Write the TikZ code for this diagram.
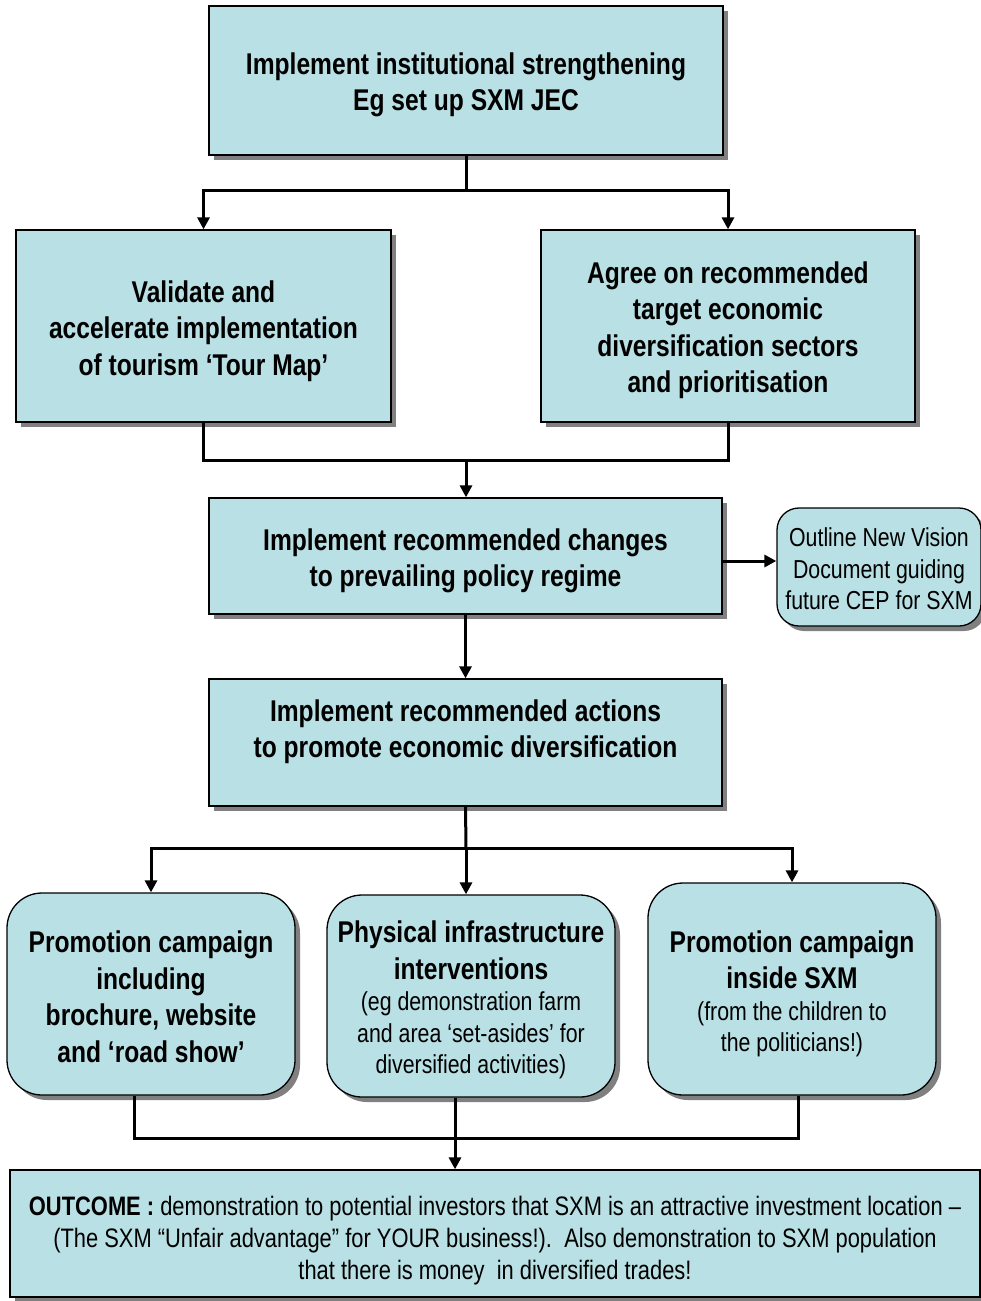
\documentclass[tikz,border=0pt]{standalone}
\usepackage{fontspec}
\usepackage{graphicx}
\setmainfont{Liberation Sans}
\usetikzlibrary{arrows.meta,shadows}
\definecolor{boxfill}{RGB}{185,224,228}
\definecolor{shadowgray}{RGB}{128,128,128}
\newcommand\bfnt{\fontsize{30}{36.5}\selectfont\bfseries}
\newcommand\nfnt{\fontsize{26}{31.5}\selectfont\mdseries}
\newcommand\ofnt{\fontsize{26.7}{32}\selectfont\mdseries}
\newcommand\boxtext[3]{\scalebox{0.82}[1]{\parbox{#1}{\vspace*{#2}\centering #3\par}}}
\begin{document}
\begin{tikzpicture}[x=1pt,y=-1pt,
  box/.style={draw=black, line width=1.3pt, fill=boxfill, inner sep=0pt,
    drop shadow={shadow xshift=5pt, shadow yshift=-5pt, fill=shadowgray, opacity=1}},
  rbox/.style={box, rounded corners=35pt},
  conn/.style={line width=3pt},
  arr/.style={conn, -{Triangle[width=12pt,length=12pt]}}]
\useasboundingbox (0,0) rectangle (981,1301);

\node[box, minimum width=514pt, minimum height=149pt] (top) at (466,80.5)
  {\boxtext{600pt}{9pt}{\bfnt Implement institutional strengthening\\Eg set up SXM JEC}};
\node[box, minimum width=375pt, minimum height=192pt] (left) at (203.5,326)
  {\boxtext{440pt}{10pt}{\bfnt Validate and\\accelerate implementation\\of tourism ‘Tour Map’}};
\node[box, minimum width=374pt, minimum height=192pt] (right) at (728,326)
  {\boxtext{440pt}{8pt}{\bfnt Agree on recommended\\target economic\\diversification sectors\\and prioritisation}};
\node[box, minimum width=513pt, minimum height=116pt] (mid1) at (465.5,556)
  {\boxtext{600pt}{10pt}{\bfnt Implement recommended changes\\to prevailing policy regime}};
\node[box, rounded corners=22pt, minimum width=204pt, minimum height=118pt] (outline) at (879,567)
  {\boxtext{244pt}{4pt}{\nfnt Outline New Vision\\Document guiding\\future CEP for SXM}};
\node[box, minimum width=513pt, minimum height=127pt] (mid2) at (465.5,742.5)
  {\boxtext{600pt}{-22pt}{\bfnt Implement recommended actions\\to promote economic diversification}};
\node[rbox, minimum width=288pt, minimum height=202pt] (bl) at (151,994)
  {\boxtext{340pt}{6pt}{\bfnt Promotion campaign\\including\\brochure, website\\and ‘road show’}};
\node[rbox, minimum width=288pt, minimum height=202pt] (bm) at (471,996)
  {\boxtext{340pt}{8pt}{\bfnt Physical infrastructure\\interventions\par
   \nfnt (eg demonstration farm\\and area ‘set-asides’ for\\diversified activities)}};
\node[rbox, minimum width=288pt, minimum height=212pt] (br) at (792,989)
  {\boxtext{340pt}{10pt}{\bfnt Promotion campaign\\inside SXM\par
   \nfnt (from the children to\\the politicians!)}};
\node[box, minimum width=970pt, minimum height=127pt] (outcome) at (495,1233.5)
  {\boxtext{1170pt}{14pt}{\ofnt \textbf{OUTCOME :} demonstration to potential investors that SXM is an attractive investment location –\\
   (The SXM “Unfair advantage” for YOUR business!).\ \ Also demonstration to SXM population\\
   that there is money\ \ in diversified trades!}};

\coordinate (j1) at (466,190);
\coordinate (j2) at (466,460);
\coordinate (j3) at (466,848);
\coordinate (j4) at (455,1138);

\draw[conn] (top.south) -- (j1);
\draw[arr] (j1) -| (left.north);
\draw[arr] (j1) -| (right.north);
\draw[conn] (left.south) |- (j2);
\draw[conn] (right.south) |- (j2);
\draw[arr] (j2) -- (j2 |- mid1.north);
\draw[arr] ([yshift=-5pt]mid1.east) -- ([yshift=-5pt]mid1.east -| outline.west);
\draw[arr] (mid1.south) -- (mid2.north);
\draw[conn] (mid2.south) -- (j3);
\draw[arr] (j3) -| (bl.north);
\draw[arr] (j3) -- (j3 |- bm.north);
\draw[arr] (j3) -| (br.north);
\draw[conn] ([xshift=-17pt]bl.south) |- (j4);
\draw[conn] ([xshift=6pt]br.south) |- (j4);
\draw[conn] ([xshift=-16pt]bm.south) -- (j4);
\draw[arr] (j4) -- (j4 |- outcome.north);
\end{tikzpicture}
\end{document}
